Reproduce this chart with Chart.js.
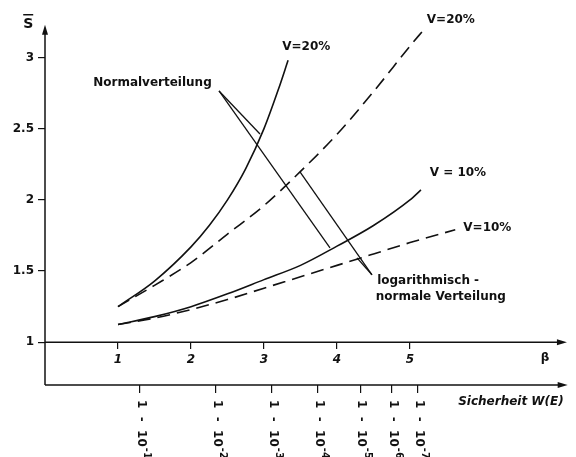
<!DOCTYPE html>
<html>
<head>
<meta charset="utf-8">
<script src="https://cdn.jsdelivr.net/npm/chart.js@4/dist/chart.umd.min.js"></script>
<style>
  html, body { margin: 0; padding: 0; background: #fff; }
  #wrap { width: 576px; height: 457px; }
</style>
</head>
<body>
<div id="wrap"><canvas id="c" width="576" height="457"></canvas></div>
<script>
// Central safety factor S̄ versus safety index β, for V = 10 % and V = 20 %
const normal20Beta = [1, 1.5, 2, 2.25, 2.5, 2.75, 3, 3.2, 3.33];
const normal20S    = [1.25, 1.43, 1.67, 1.82, 2.0, 2.22, 2.5, 2.78, 2.98];

const lognormal20Beta = [1, 1.5, 2, 2.5, 3, 3.5, 4, 4.5, 5, 5.18];
const lognormal20S    = [1.25, 1.40, 1.56, 1.76, 1.96, 2.20, 2.46, 2.76, 3.08, 3.19];

const normal10Beta = [1, 1.5, 2, 2.5, 3, 3.5, 4, 4.5, 5, 5.15];
const normal10S    = [1.125, 1.18, 1.25, 1.34, 1.44, 1.54, 1.675, 1.82, 2.0, 2.07];

const lognormal10Beta = [1, 1.5, 2, 2.5, 3, 3.5, 4, 4.5, 5, 5.62];
const lognormal10S    = [1.125, 1.17, 1.23, 1.30, 1.38, 1.46, 1.54, 1.62, 1.70, 1.79];

// axis ticks
const sTicks = [1, 1.5, 2, 2.5, 3];
const betaTicks = [1, 2, 3, 4, 5];
// W(E) = 1 - 10^-k placed at the matching β
const safetyTicks = [1.30, 2.34, 3.11, 3.74, 4.32, 4.75, 5.11];
const safetyExponents = ['-1', '-2', '-3', '-4', '-5', '-6', '-7'];

const INK = '#111';
const FONT = '"DejaVu Sans", sans-serif';

function pts(xs, ys) { return xs.map((x, i) => ({ x, y: ys[i] })); }

function curve(label, xs, ys, dashed) {
  return {
    label,
    data: pts(xs, ys),
    borderColor: INK,
    borderWidth: 1.6,
    borderDash: dashed ? [13, 7] : [],
    pointRadius: 0,
    fill: false,
    cubicInterpolationMode: 'monotone'
  };
}

function noPad(s) {
  s.paddingTop = 0; s.paddingBottom = 0; s.paddingLeft = 0; s.paddingRight = 0;
}

function arrow(ctx, x1, y1, x2, y2) {
  const a = Math.atan2(y2 - y1, x2 - x1);
  ctx.beginPath();
  ctx.moveTo(x1, y1);
  ctx.lineTo(x2 - 6 * Math.cos(a), y2 - 6 * Math.sin(a));
  ctx.stroke();
  ctx.beginPath();
  ctx.moveTo(x2, y2);
  ctx.lineTo(x2 - 10 * Math.cos(a) + 3 * Math.sin(a), y2 - 10 * Math.sin(a) - 3 * Math.cos(a));
  ctx.lineTo(x2 - 10 * Math.cos(a) - 3 * Math.sin(a), y2 - 10 * Math.sin(a) + 3 * Math.cos(a));
  ctx.closePath();
  ctx.fill();
}

// annotation texts, anchored at (β, S̄)
const notes = [
  { text: 'V=20%', b: 3.25, s: 3.074 },
  { text: 'V=20%', b: 5.23, s: 3.263 },
  { text: 'V = 10%', b: 5.27, s: 2.189 },
  { text: 'V=10%', b: 5.73, s: 1.804 },
  { text: 'Normalverteilung', b: 0.66, s: 2.821 },
  { text: 'logarithmisch -', b: 4.55, s: 1.432 },
  { text: 'normale Verteilung', b: 4.53, s: 1.319 }
];

// leader lines: apex, then the points they point at
const leaders = [
  { from: [2.384, 2.765], to: [[2.945, 2.463], [3.904, 1.663]] },
  { from: [4.479, 1.474], to: [[3.493, 2.196], [4.274, 1.593]] }
];

const decor = {
  id: 'decor',
  afterDraw(chart) {
    const ctx = chart.ctx;
    const X = v => chart.scales.x.getPixelForValue(v);
    const Y = v => chart.scales.y.getPixelForValue(v);
    ctx.save();
    ctx.strokeStyle = INK;
    ctx.fillStyle = INK;
    ctx.lineWidth = 1.5;
    ctx.lineCap = 'butt';

    // axes with arrow heads
    arrow(ctx, X(0), Y(0.7), X(0), Y(3.23));
    arrow(ctx, X(0), Y(1), X(7.15), Y(1));
    arrow(ctx, X(0), Y(0.7), X(7.16), Y(0.7));

    // leader lines
    ctx.lineWidth = 1.3;
    leaders.forEach(l => {
      l.to.forEach(t => {
        ctx.beginPath();
        ctx.moveTo(X(l.from[0]), Y(l.from[1]));
        ctx.lineTo(X(t[0]), Y(t[1]));
        ctx.stroke();
      });
    });

    // annotation texts
    ctx.textBaseline = 'middle';
    ctx.textAlign = 'left';
    ctx.font = 'bold 12px ' + FONT;
    notes.forEach(n => ctx.fillText(n.text, X(n.b), Y(n.s)));

    // axis title S with overbar
    ctx.font = 'bold 14px ' + FONT;
    ctx.textAlign = 'center';
    const sx = X(-0.23), sy = Y(3.23);
    ctx.fillText('S', sx, sy);
    ctx.lineWidth = 1.5;
    ctx.beginPath();
    ctx.moveTo(sx - 5, sy - 10);
    ctx.lineTo(sx + 5, sy - 10);
    ctx.stroke();

    ctx.font = 'bold 12px ' + FONT;
    ctx.fillText('\u03B2', X(6.85), Y(0.891));
    ctx.textAlign = 'left';
    ctx.font = 'italic bold 12px ' + FONT;
    ctx.fillText('Sicherheit W(E)', X(5.66), Y(0.582));

    // W(E) labels, turned to read downwards
    safetyTicks.forEach((v, i) => {
      ctx.save();
      ctx.translate(X(v) + 1, Y(0.7) + 15);
      ctx.rotate(Math.PI / 2);
      ctx.font = 'bold 12px ' + FONT;
      ctx.textBaseline = 'middle';
      const base = '1  -  10';
      ctx.fillText(base, 0, 0);
      const w = ctx.measureText(base).width;
      ctx.font = 'bold 10px ' + FONT;
      ctx.fillText(safetyExponents[i], w + 1, -6);
      ctx.restore();
    });
    ctx.restore();
  }
};

new Chart(document.getElementById('c'), {
  type: 'line',
  data: {
    datasets: [
      curve('Normalverteilung V=20%', normal20Beta, normal20S, false),
      curve('logarithmisch-normale Verteilung V=20%', lognormal20Beta, lognormal20S, true),
      curve('Normalverteilung V=10%', normal10Beta, normal10S, false),
      curve('logarithmisch-normale Verteilung V=10%', lognormal10Beta, lognormal10S, true)
    ]
  },
  options: {
    responsive: false,
    animation: false,
    devicePixelRatio: 1,
    layout: { padding: { top: 27, left: 0, right: 0, bottom: 0 } },
    plugins: { legend: { display: false }, tooltip: { enabled: false } },
    scales: {
      x: {
        type: 'linear',
        min: 0,
        max: 7.274,
        position: { y: 1 },
        afterFit(s) { s.height = 0; noPad(s); },
        afterBuildTicks(s) { s.ticks = betaTicks.map(v => ({ value: v })); },
        border: { display: false },
        grid: { drawOnChartArea: false, drawTicks: true, tickLength: 7, color: INK, lineWidth: 1.2 },
        ticks: {
          color: INK, font: { family: FONT, size: 12, weight: 'bold', style: 'italic' },
          padding: 3, maxRotation: 0, autoSkip: false,
          callback: v => String(v)
        }
      },
      w: {
        type: 'linear',
        axis: 'x',
        min: 0,
        max: 7.274,
        position: 'bottom',
        afterFit(s) { s.height = 72; noPad(s); },
        afterBuildTicks(s) { s.ticks = safetyTicks.map(v => ({ value: v })); },
        border: { display: false },
        grid: { drawOnChartArea: false, drawTicks: true, tickLength: 8, color: INK, lineWidth: 1.2 },
        ticks: { display: false }
      },
      y: {
        type: 'linear',
        min: 0.7,
        max: 3.214,
        position: 'left',
        afterFit(s) { s.width = 45; noPad(s); },
        afterBuildTicks(s) { s.ticks = sTicks.map(v => ({ value: v })); },
        border: { display: false },
        grid: { drawOnChartArea: false, drawTicks: true, tickLength: 7, color: INK, lineWidth: 1.2 },
        ticks: {
          color: INK, font: { family: FONT, size: 12, weight: 'bold' }, padding: 4,
          callback: v => String(v)
        }
      }
    }
  },
  plugins: [decor]
});
</script>
</body>
</html>
